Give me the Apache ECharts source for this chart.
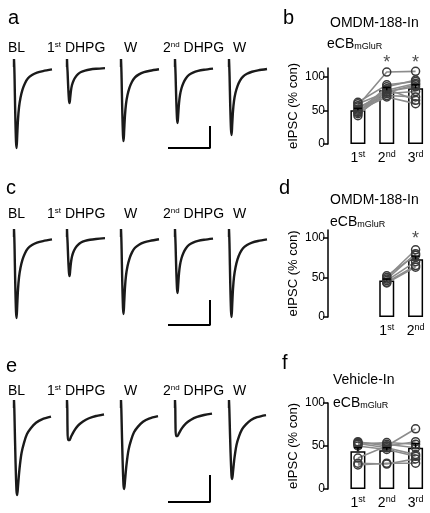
<!DOCTYPE html>
<html><head><meta charset="utf-8">
<script src="https://cdn.jsdelivr.net/npm/echarts@6/dist/echarts.min.js"></script>
<style>html,body{margin:0;padding:0;background:#fff}#c{width:430px;height:513px}</style>
</head><body><div id="c"></div>
<script>
// ---- trace data (time in ms, current as fraction of peak) ----
const shapeFast=[[0.6,-0.15],[1.2,-0.55],[2,-0.92],[2.6,-1],[3.2,-0.85],[4,-0.65],[5,-0.5],[6.5,-0.38],[8.5,-0.28],[11,-0.2],[14,-0.14],[18,-0.1],[23,-0.07],[29,-0.05],[38,-0.03]];
const shapeSlow=[[0.6,-0.15],[1.5,-0.6],[2.5,-0.95],[3.2,-1],[4,-0.9],[5.5,-0.7],[7.5,-0.52],[10,-0.4],[13,-0.3],[17,-0.23],[22,-0.17],[28,-0.13],[37,-0.1]];
const shapeDHPGe=[[0.5,-0.6],[1,-1],[2.5,-1],[4,-0.9],[7,-0.72],[11,-0.55],[16,-0.42],[22,-0.32],[29,-0.25],[37,-0.2]];
const traceLabels=['BL','1st DHPG','W','2nd DHPG','W'];
const ampA=[81,36,74,56,68];
const ampC=[81,39,77,56,80];
const ampE=[87,32,81,28,71];
const shapesE=['slow','dhpg','slow','dhpg','slow'];
// ---- bar panel data ----
const cats=['1st','2nd','3rd'];
const barB=[50,80,83], errB=[3,4,5];
const cellsB=[[57,107,108],[62,88,93],[52,80,90],[48,78,85],[45,75,78],[55,72,70],[42,82,65],[50,70,60],[60,77,88],[47,85,95]];
const barD=[46,73], errD=[2,4];
const cellsD=[[50,85],[48,80],[46,70],[44,65],[52,78],[43,63]];
const barF=[44,45,48], errF=[4,3,5];
const cellsF=[[55,50,55],[54,52,48],[53,48,40],[36,50,70],[30,29,35],[28,30,30],[52,54,52],[50,46,38]];
const starsB=[null,121,121], starsD=[null,null,99];

const chart=echarts.init(document.getElementById('c'));
const grid=[],xAxis=[],yAxis=[],series=[],graphic=[];
const FONT='Liberation Sans, Arial, sans-serif';
const traceLeft=[14,67,121,175,229];
function addRow(baseline,amps,shapes,scaleTop,scaleBottom){
  amps.forEach((A,i)=>{
    const gi=grid.length;
    grid.push({left:traceLeft[i]-10,top:baseline-12,width:55,height:110});
    xAxis.push({gridIndex:gi,type:'value',min:-10,max:45,show:false});
    yAxis.push({gridIndex:gi,type:'value',min:-98,max:12,show:false});
    const sh=shapes[i]==='dhpg'?shapeDHPGe:(shapes[i]==='slow'?shapeSlow:shapeFast);
    const d=[[0,0],[0,8],[0.3,0]].concat(sh.map(p=>[p[0],p[1]*A]));
    series.push({type:'line',xAxisIndex:gi,yAxisIndex:gi,data:d,showSymbol:false,symbol:'none',smooth:0.3,
      lineStyle:{color:'#1a1a1a',width:2.4},silent:true,animation:false});
    if(i===3){
      series.push({type:'line',xAxisIndex:gi,yAxisIndex:gi,data:[[-7,-scaleBottom],[35,-scaleBottom],[35,-scaleTop]],
        showSymbol:false,symbol:'none',lineStyle:{color:'#000',width:2},silent:true,animation:false});
    }
  });
}
addRow(67,ampA,['f','f','f','f','f'],59,81);
addRow(237,ampC,['f','f','f','f','f'],63,88);
addRow(408,ampE,shapesE,67,94);

const catRich={n:{fontSize:14,fontFamily:FONT,color:'#000'},s:{fontSize:9,fontFamily:FONT,color:'#000',verticalAlign:'top',padding:[0,0,7,0]}};
function catFmt(v){if(!v)return '';return '{n|'+v[0]+'}{s|'+v.slice(1)+'}';}
function addBar(top,height,max,catsUsed,bars,errs,cells,stars,showMax){
  const gi=grid.length;
  grid.push({left:343.5,top:top,width:88.5,height:height});
  xAxis.push({gridIndex:gi,type:'category',data:catsUsed,axisLine:{show:false},axisTick:{show:false},
    axisLabel:{formatter:catFmt,rich:catRich,margin:6,interval:0}});
  yAxis.push({gridIndex:gi,type:'value',min:0,max:max,interval:50,offset:15.5,
    axisLine:{show:true,lineStyle:{color:'#000',width:1.5}},axisTick:{show:true,length:5,lineStyle:{color:'#000',width:1.5}},
    splitLine:{show:false},axisLabel:{color:'#000',fontSize:12,fontFamily:FONT,showMaxLabel:showMax,margin:3},
    name:'eIPSC (% con)',nameLocation:'middle',nameGap:28,nameTextStyle:{color:'#000',fontSize:13,fontFamily:FONT}});
  const off=catsUsed.length-bars.length;
  const bd=catsUsed.map((c,i)=>i<off?null:bars[i-off]);
  series.push({type:'bar',xAxisIndex:gi,yAxisIndex:gi,data:bd,barWidth:15,
    itemStyle:{color:'#fff',borderColor:'#000',borderWidth:1.5},silent:true,animation:false,z:2});
  series.push({type:'custom',xAxisIndex:gi,yAxisIndex:gi,animation:false,z:5,
    data:bars.map((b,i)=>[i+off,b,errs[i]]),
    renderItem:(p,api)=>{const x=api.coord([api.value(0),api.value(1)]);const t=api.coord([api.value(0),api.value(1)+api.value(2)]);
      return {type:'group',children:[{type:'line',shape:{x1:x[0],y1:x[1],x2:t[0],y2:t[1]},style:{stroke:'#000',lineWidth:1.5}},
        {type:'line',shape:{x1:t[0]-4,y1:t[1],x2:t[0]+4,y2:t[1]},style:{stroke:'#000',lineWidth:1.5}}]};}});
  cells.forEach(c=>{
    series.push({type:'line',xAxisIndex:gi,yAxisIndex:gi,data:c.map((v,i)=>[catsUsed[i+off],v]),
      symbol:'circle',symbolSize:8,lineStyle:{color:'#8c8c8c',width:1.6},
      itemStyle:{color:'rgba(0,0,0,0)',borderColor:'#3a3a3a',borderWidth:1.5},silent:true,animation:false,z:4});
  });
  series.push({type:'scatter',xAxisIndex:gi,yAxisIndex:gi,clip:false,symbol:'circle',symbolSize:1,
    itemStyle:{color:'rgba(0,0,0,0)'},
    data:stars.map((s,i)=>s==null?null:[catsUsed[i],s]).filter(Boolean),
    label:{show:true,formatter:'*',color:'#222',fontSize:18,fontFamily:FONT,position:'inside'},silent:true,animation:false,z:6});
}
addBar(68,76,113,cats,barB,errB,cellsB,starsB,false);
addBar(230,87,110,['','1st','2nd'],barD,errD,cellsD,starsD,false);
addBar(403,86,100,cats,barF,errF,cellsF,[null,null,null],true);

function txt(x,y,t,size,extra){graphic.push({type:'text',x:x,y:y,style:Object.assign({text:t,fontSize:size,fontFamily:FONT,fill:'#000',textVerticalAlign:'middle'},extra||{})});}
[['a',8,18],['b',283,18],['c',6,188],['d',279,188],['e',6,366],['f',282,363]].forEach(l=>txt(l[1],l[2],l[0],20));
const lblX=[8,47,124,163,233];
[48,214,391].forEach(y=>{
  traceLabels.forEach((t,i)=>{
    const m=t.match(/^(\d)(st|nd) (.*)$/);
    if(m){graphic.push({type:'text',x:lblX[i],y:y,style:{text:'{n|'+m[1]+'}{s|'+m[2]+'}{n| '+m[3]+'}',
      rich:{n:{fontSize:14,fontFamily:FONT,fill:'#000'},s:{fontSize:8,fontFamily:FONT,fill:'#000',verticalAlign:'top',padding:[0,0,6,0]}},textVerticalAlign:'middle'}});}
    else txt(lblX[i],y,t,14);
  });
});
function title(x,y,t){txt(x,y,t,14);}
function ecb(x,y){graphic.push({type:'text',x:x,y:y,style:{text:'{n|eCB}{s|mGluR}',textVerticalAlign:'middle',
  rich:{n:{fontSize:14,fontFamily:FONT,fill:'#000'},s:{fontSize:9,fontFamily:FONT,fill:'#000',verticalAlign:'bottom',padding:[6,0,0,0]}}}});}
title(330,23,'OMDM-188-In');ecb(327,44);
title(330,200,'OMDM-188-In');ecb(330,222);
title(333,380,'Vehicle-In');ecb(333,403);

chart.setOption({animation:false,grid,xAxis,yAxis,series,graphic});
</script></body></html>
